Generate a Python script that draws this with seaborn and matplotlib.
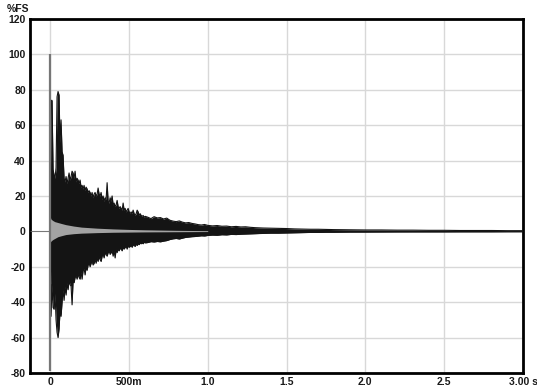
import numpy as np
import pandas as pd
import matplotlib
matplotlib.use("Agg")
import matplotlib.pyplot as plt
import seaborn as sns

# ---- data ----
# early part: one sample every 6.35 ms from t = 0
early_dt = 0.00635
early_up = [0, 74, 74, 35, 32, 30, 36, 76, 79, 77, 50, 63, 45, 43, 30, 28, 31, 27, 30, 33,
            29, 31, 34, 33, 30, 34, 28, 30, 29, 27, 29, 25, 26, 24, 26, 23, 25, 24, 22, 23,
            22, 20, 22, 19, 21, 22, 20, 21, 24.5, 21, 20, 22, 18, 20, 17, 19, 18, 27.5, 17, 16,
            19, 17, 20, 15, 16, 14, 15, 17.5, 14, 13, 14, 13, 12, 16, 12, 13, 11, 12, 13, 11,
            10, 11, 10, 12, 10, 9, 10, 12, 11, 9, 10, 9, 8.5, 9, 8, 8.5]
early_lo = [0, -48, -30, -43, -44, -35, -50, -57, -60, -55, -45, -48, -40, -33, -39, -31, -36, -29, -33, -28,
            -30, -31, -41.5, -28, -29, -26, -25, -27, -24, -26, -27, -23, -27, -22, -21, -24.6, -20, -22, -19, -18,
            -20, -18, -17, -19, -18, -16, -18, -15, -17, -14, -16, -17, -14, -13, -15, -12, -13, -14, -12, -11,
            -13, -12, -11, -14, -11, -15, -10, -12, -10, -11, -9.5, -10, -11, -9, -10, -9, -8.5, -10, -8, -9,
            -8.5, -8, -9, -7.5, -8, -8.5, -7, -8, -7, -7.5, -6.5, -7, -6.5, -7, -6, -6.5]

late_t = [0.62, 0.64, 0.66, 0.68, 0.70, 0.72, 0.74, 0.76, 0.78, 0.80, 0.82, 0.84, 0.86, 0.88, 0.90,
          0.92, 0.94, 0.96, 0.98, 1.00, 1.03, 1.06, 1.09, 1.12, 1.15, 1.18, 1.21, 1.24, 1.27, 1.30,
          1.35, 1.40, 1.45, 1.50, 1.55, 1.60, 1.65, 1.70, 1.75, 1.80, 1.90, 2.00, 2.10, 2.20, 2.30,
          2.40, 2.50, 2.60, 2.70, 2.80, 2.90, 3.00]
late_up = [8.0, 7.2, 8.3, 7.6, 7.8, 7.0, 7.5, 6.3, 5.8, 5.5, 5.9, 5.2, 4.8, 5.0, 4.5,
           4.2, 3.8, 3.6, 3.9, 3.4, 3.1, 3.3, 2.9, 3.0, 2.6, 2.8, 2.5, 2.6, 2.3, 2.1,
           1.9, 1.8, 1.7, 1.6, 1.4, 1.3, 1.2, 1.2, 1.1, 1.0, 0.9, 0.8, 0.8, 0.7, 0.7,
           0.6, 0.6, 0.5, 0.5, 0.5, 0.4, 0.4]
late_lo = [-6.3, -5.8, -6.0, -5.7, -5.9, -5.5, -5.2, -4.6, -4.2, -4.0, -4.3, -3.8, -3.4, -3.2, -3.0,
           -2.9, -2.7, -2.5, -2.6, -2.3, -2.1, -2.2, -1.9, -2.0, -1.7, -1.8, -1.6, -1.5, -1.4, -1.3,
           -1.1, -1.0, -1.0, -0.9, -0.8, -0.7, -0.6, -0.6, -0.5, -0.5, -0.4, -0.4, -0.35, -0.3, -0.3,
           -0.3, -0.3, -0.25, -0.25, -0.25, -0.2, -0.2]

pre_t = [-0.125, -0.002]
pre_up = [0.4, 0.4]
pre_lo = [0.1, 0.1]

# second (gray) channel
gray_spike_t = [0.0]
gray_spike_top = [100]
gray_spike_bottom = [-79]
gray_t = [0.002, 0.006, 0.012, 0.02, 0.03, 0.05, 0.07, 0.10, 0.15, 0.20, 0.30, 0.40, 0.50, 0.60, 0.80, 1.00]
gray_up = [8.0, 7.0, 6.5, 6.0, 5.5, 5.0, 4.5, 3.8, 3.0, 2.4, 1.8, 1.4, 1.1, 0.9, 0.6, 0.4]
gray_lo = [-6.0, -5.5, -5.0, -4.5, -4.0, -3.0, -2.5, -1.8, -1.3, -1.0, -0.7, -0.5, -0.4, -0.3, -0.2, -0.1]

x_ticks = [0, 0.5, 1.0, 1.5, 2.0, 2.5, 3.0]
x_labels = ["0", "500m", "1.0", "1.5", "2.0", "2.5", "3.00 s"]
y_ticks = [-80, -60, -40, -20, 0, 20, 40, 60, 80, 100, 120]

# ---- build tables ----
early_t = list(np.arange(len(early_up)) * early_dt)
black = pd.DataFrame({
    "t": early_t + late_t,
    "up": early_up + late_up,
    "lo": early_lo + late_lo,
})
gray = pd.DataFrame({"t": gray_t, "up": gray_up, "lo": gray_lo})

sns.set_style("white")
plt.rcParams["font.family"] = ["Liberation Sans", "DejaVu Sans"]

fig = plt.figure(figsize=(5.37, 3.87), dpi=100)
ax = fig.add_axes([0.0559, 0.0362, 0.9181, 0.9148])

blk = "#141414"
gry = "#a3a3a3"

ax.fill_between(black["t"], black["lo"], black["up"], color=blk, linewidth=0, zorder=3)
sns.lineplot(data=black, x="t", y="up", ax=ax, color=blk, linewidth=0.8, zorder=3, estimator=None)
sns.lineplot(data=black, x="t", y="lo", ax=ax, color=blk, linewidth=0.8, zorder=3, estimator=None)

ax.fill_between(gray["t"], gray["lo"], gray["up"], color=gry, linewidth=0, zorder=4)
ax.vlines(gray_spike_t, gray_spike_bottom, gray_spike_top, color="#767676", linewidth=1.6, zorder=5)
ax.fill_between(pre_t, pre_lo, pre_up, color="#666666", linewidth=0.6, edgecolor="#666666", zorder=4)

ax.set_xlim(-0.127, 3.0)
ax.set_ylim(-80, 120)
ax.set_xticks(x_ticks)
ax.set_xticklabels(x_labels)
ax.set_yticks(y_ticks)
ax.set_yticklabels([str(v) for v in y_ticks])
ax.set_xlabel("")
ax.set_ylabel("")

ax.grid(True, color="#d8d8d8", linewidth=1.0, zorder=0)
ax.set_axisbelow(True)
for s in ax.spines.values():
    s.set_visible(True)
    s.set_color("black")
    s.set_linewidth(2.0)
ax.tick_params(axis="both", length=0, labelsize=7.5, colors="#1a1a1a", pad=3)
for lab in ax.get_xticklabels() + ax.get_yticklabels():
    lab.set_fontweight("bold")

fig.text(0.013, 0.965, "%FS", fontsize=7.5, fontweight="bold", color="#1a1a1a", ha="left", va="bottom")

fig.savefig("out.png", dpi=100)
